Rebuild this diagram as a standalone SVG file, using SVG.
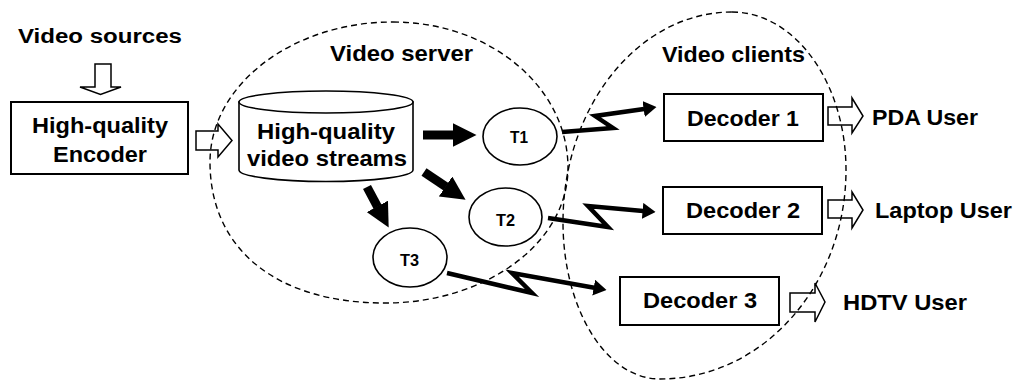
<svg xmlns="http://www.w3.org/2000/svg" width="1016" height="380" viewBox="0 0 1016 380">
<style>
text{font-family:"Liberation Sans",Arial,sans-serif;font-weight:bold;fill:#000;}
.big{font-size:21.5px;}
.sm{font-size:16px;}
.box{fill:#fff;stroke:#000;stroke-width:2;}
.node{fill:#fff;stroke:#000;stroke-width:1.6;}
.hollow{fill:#fff;stroke:#000;stroke-width:1.5;stroke-linejoin:miter;}
.fat{stroke:#000;stroke-width:9;fill:none;marker-end:url(#fatHead);}
.bolt{stroke:#000;stroke-width:4.5;fill:none;stroke-linejoin:miter;stroke-miterlimit:10;marker-end:url(#boltHead);}
.dash{fill:none;stroke:#000;stroke-width:1.4;stroke-dasharray:6 4;}
</style>
<defs>
<marker id="fatHead" viewBox="0 0 24 24" markerUnits="userSpaceOnUse" markerWidth="24" markerHeight="24" refX="0.5" refY="12" orient="auto"><path d="M0,0 L24,12 L0,24 Z" fill="#000"/></marker>
<marker id="boltHead" viewBox="0 0 13 16" markerUnits="userSpaceOnUse" markerWidth="13" markerHeight="16" refX="0.5" refY="8" orient="auto"><path d="M0,0 L13,8 L0,16 Z" fill="#000"/></marker>
</defs>
<rect width="1016" height="380" fill="#fff"/>

<g id="label-sources"><text class="big" x="18" y="43" style="font-size:20px" textLength="164" lengthAdjust="spacingAndGlyphs">Video sources</text></g>

<g id="connectors">
<path class="hollow" d="M95,64 H111 V87 H121 L100.5,94.5 L80,87 H95 Z"/>
<path class="hollow" d="M196,131 H218 V124 L232,140.5 L218,157 V150 H196 Z"/>
<line class="fat" x1="423" y1="135" x2="453" y2="135"/>
<line class="fat" x1="424" y1="172" x2="446" y2="186.7"/>
<line class="fat" x1="367" y1="187" x2="377.6" y2="206.8"/>
<polyline class="bolt" points="562,132 613,128 595,116 644.1,108.9"/>
<polyline class="bolt" points="548,218 608,227 588,206 643.1,210.9"/>
<polyline class="bolt" points="447,273 532,293 512,273 594.2,287.7"/>
<path class="hollow" d="M828,107 H852 V98 L863,116 L852,133 V125 H828 Z"/>
<path class="hollow" d="M828,200 H852 V192 L863,210 L852,228 V218 H828 Z"/>
<path class="hollow" d="M790,293 H815 V283 L825,302 L815,322 V312 H790 Z"/>
</g>

<g id="encoder">
<rect class="box" x="11" y="102" width="177" height="72"/>
<text class="big" x="32" y="133" textLength="136" lengthAdjust="spacingAndGlyphs">High-quality</text>
<text class="big" x="53" y="162" textLength="94" lengthAdjust="spacingAndGlyphs">Encoder</text>
</g>

<g id="video-server">
<path class="dash" d="M393,22 C490,22 568,87 568,168 C568,243 486,303 385,303 C276,303 210,249 210,162 C210,85 292,22 393,22 Z"/>
<text class="big" x="330" y="61" textLength="143" lengthAdjust="spacingAndGlyphs">Video server</text>
</g>

<g id="streams">
<path class="node" d="M239,102 V170 A87,11.5 0 0 0 413,170 V102 Z"/>
<ellipse class="node" cx="326" cy="102" rx="87" ry="11"/>
<text class="big" x="257" y="139" textLength="138" lengthAdjust="spacingAndGlyphs">High-quality</text>
<text class="big" x="247" y="166" textLength="160" lengthAdjust="spacingAndGlyphs">video streams</text>
</g>

<g id="t1">
<ellipse class="node" cx="520" cy="136.5" rx="37" ry="28.5"/>
<text class="sm" x="510" y="143" textLength="18" lengthAdjust="spacingAndGlyphs">T1</text>
</g>
<g id="t2">
<ellipse class="node" cx="505.5" cy="217" rx="36.5" ry="29"/>
<text class="sm" x="496" y="226" textLength="19" lengthAdjust="spacingAndGlyphs">T2</text>
</g>
<g id="t3">
<ellipse class="node" cx="410" cy="257.5" rx="37" ry="29.5"/>
<text class="sm" x="400" y="266" textLength="19" lengthAdjust="spacingAndGlyphs">T3</text>
</g>

<g id="video-clients">
<path class="dash" d="M732,12 C795,12 846,83 846,170 C846,285 763,379 660,379 C606,379 563,309 563,222 C563,106 639,12 732,12 Z"/>
<text class="big" x="662" y="62" textLength="143" lengthAdjust="spacingAndGlyphs">Video clients</text>
</g>

<g id="decoder1">
<rect class="box" x="664" y="94" width="159" height="47"/>
<text class="big" x="687" y="126" textLength="112" lengthAdjust="spacingAndGlyphs">Decoder 1</text>
</g>
<g id="decoder2">
<rect class="box" x="663" y="187" width="159" height="47"/>
<text class="big" x="686" y="218" textLength="114" lengthAdjust="spacingAndGlyphs">Decoder 2</text>
</g>
<g id="decoder3">
<rect class="box" x="620" y="277" width="159" height="48"/>
<text class="big" x="643" y="308" textLength="114" lengthAdjust="spacingAndGlyphs">Decoder 3</text>
</g>

<g id="pda-user"><text class="big" x="872" y="125" textLength="106" lengthAdjust="spacingAndGlyphs">PDA User</text></g>
<g id="laptop-user"><text class="big" x="875" y="218" textLength="137" lengthAdjust="spacingAndGlyphs">Laptop User</text></g>
<g id="hdtv-user"><text class="big" x="843" y="310" textLength="124" lengthAdjust="spacingAndGlyphs">HDTV User</text></g>
</svg>
